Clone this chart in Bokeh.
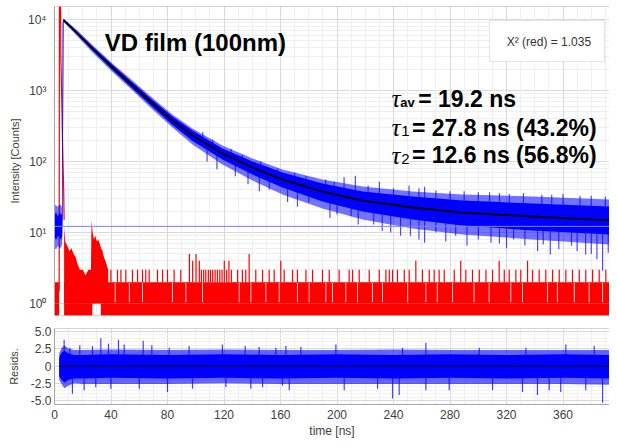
from bokeh.plotting import figure
from bokeh.layouts import column
from bokeh.models import FixedTicker, CustomJSTickFormatter, Span, Label, Grid, Range1d, BoxAnnotation
from bokeh.embed import file_html
from bokeh.resources import INLINE

# ---------------- values ----------------
x_ticks = [0, 40, 80, 120, 160, 200, 240, 280, 320, 360]
y_log_ticks = [1, 10, 100, 1000, 10000]
resid_ticks = [-5.0, -2.5, 0.0, 2.5, 5.0]

# fitted decay curve (black)
fit_t = [6.4, 16.3, 26.9, 41.1, 55.2, 69.4, 83.5, 97.7, 118.9, 140.2, 161.4, 189.7, 218.1, 253.5, 288.8, 338.4, 392.9]
fit_v = [9800, 6350, 3910, 2110, 1175, 656, 378, 232, 130, 82.2, 55.7, 37.8, 28.2, 22.5, 19.1, 16.8, 14.8]

# measured decay (blue): dense core and noisy fringe envelopes
decay_t = [0, 1.2, 2.4, 3.6, 4.8, 5.4, 5.8] + fit_t
decay_hi = [18, 19, 17, 19, 18, 18, 9000, 10120, 6670, 4170, 2290, 1295, 735, 430, 273, 152, 100, 69.8, 49, 37.8, 32.1, 28.2, 25.6, 23.2]
decay_lo = [8.5, 8, 9, 8.5, 8, 9, 18, 9490, 6050, 3670, 1950, 1067, 586, 326, 194, 107, 65.6, 43, 27.3, 19.8, 15.2, 12.6, 10.7, 9.4]
fringe_hi = [25, 24, 23, 25, 24, 22, 9300, 10350, 7000, 4380, 2400, 1380, 783, 458, 291, 168, 110, 77, 55.7, 44.5, 37.8, 34.4, 32.1, 29.2]
fringe_lo = [6, 5.8, 6.5, 6, 6.2, 7, 15, 9280, 5760, 3430, 1825, 1000, 540, 301, 173, 90.8, 54, 34.3, 21.8, 15.2, 11.4, 9.4, 8.0, 6.8]

# isolated downward / upward excursions of the blue data
blue_dn_t = [108, 115, 128, 137, 145, 152, 165, 172, 180, 185, 195, 200, 210, 215, 226, 232, 238, 245, 252, 258, 262,
             270, 277, 284, 292, 300, 309, 315, 320, 325, 333, 342, 346, 351, 357, 366, 370, 376, 380, 384, 388, 392]
blue_dn_from = [180, 145, 108, 88, 77, 68, 53, 47, 43, 40, 35.5, 34, 31, 29, 27, 25.8, 25, 24, 22.7, 22, 21.5,
                21, 20, 19.5, 19, 18.5, 18, 17.7, 17.5, 17.2, 17, 16.7, 16.5, 16.3, 16, 15.7, 15.6, 15.3, 15.2, 15, 14.9, 14.8]
blue_dn_to = [100, 78, 62, 48, 38, 40, 27, 23, 26.5, 30, 16, 18, 17, 13, 13, 10.5, 10, 9, 9, 8, 7.2,
              10, 7.5, 9, 6.5, 8, 7.2, 7, 6, 8, 6.6, 5.5, 6.8, 4.9, 5.8, 6.5, 5.5, 4.9, 5, 4.2, 2.9, 5.2]
blue_up_t = [105, 112, 125, 133, 146, 158, 170, 178, 192, 198, 205, 213, 222, 230, 240, 251, 258, 262, 270, 280,
             290, 300, 308, 315, 322, 332, 345, 352, 360, 372, 380, 390]
blue_up_from = [195, 155, 115, 95, 75, 60, 50, 44, 37, 35, 33, 29, 27.5, 27, 24.5, 23, 22, 21.5, 21, 20,
                19, 18.5, 18, 17.7, 17.4, 17, 16.6, 16.2, 15.9, 15.5, 15.2, 14.9]
blue_up_to = [260, 205, 150, 125, 100, 80, 70, 62, 56, 52, 60, 63, 46, 52, 42, 46, 42, 44, 39, 38,
              38, 37, 37, 36, 35, 36, 34, 34, 35, 33, 33, 32]

bg_level = 12.2

# instrument response (red)
irf_t = [3.0, 3.3, 3.5, 4.2, 4.5, 5.0, 5.5, 6.0, 6.5, 6.8]
irf_v = [1.5, 1.5, 30000, 30000, 3000, 1000, 300, 100, 40, 15]
red_fill_t = [6.8, 7.6, 9.0, 10.5, 12.0, 13.5, 15.0, 16.5, 18.0, 20.0, 22.0, 24.0, 25.8, 26.2, 27.0, 28.0, 29.0, 30.0, 31.0, 32.0, 33.0, 34.0, 35.0, 36.0, 37.0, 38.0]
red_fill_hi = [12, 7.5, 6.5, 5.5, 6, 5, 4.5, 3.5, 3, 3, 2.5, 3, 3, 15, 10, 8, 9, 7.5, 8, 7, 6, 5.5, 4.5, 4, 3.5, 3]
red_fill_lo = [1, 1, 1, 1, 1, 1, 1, 1, 1, 1, 1, 1, 1, 1.2, 1.2, 1.2, 1.2, 1.2, 1.2, 1.2, 1.2, 1.2, 1, 1, 1, 1]
red_base_x0 = [0, 6.8, 32.8]
red_base_x1 = [3.3, 26.8, 392.9]
red_mid_x0 = [0, 6.8]
red_mid_x1 = [3.3, 392.9]
red_gap_t = [43, 53, 62.3, 83.5, 93, 104.8, 130.8, 139, 149.6, 159.1, 172, 180.3, 192.1, 196.8, 206.2, 214.5, 225.1, 232.2,
             250, 262.9, 271, 281.8, 297, 307.7, 323, 331.3, 349, 356, 368, 378.5, 388]
red_spike_t = [39.9, 44.6, 47.0, 50.5, 55.2, 58.8, 62.3, 64.6, 67.0, 72.9, 76.5, 80.0, 84.7, 89.4, 95.5, 97.8, 100.2, 102.5,
               104.0, 105.6, 107.1, 108.9, 110.4, 112.0, 113.7, 115.3, 117.0, 118.6, 120.2, 121.9, 123.5, 125.2,
               129.6, 133.0, 135.4, 137.8, 142.5, 147.3, 152.0, 155.5, 160.2, 162.6, 168.5, 172.0, 178.0, 182.7, 189.7,
               194.5, 201.5, 208.6, 211.0, 215.7, 222.8, 229.9, 234.6, 237.0, 239.3, 242.8, 247.6, 251.1, 255.8, 260.5,
               265.3, 268.8, 272.3, 275.9, 283.0, 287.6, 291.2, 295.9, 300.7, 305.4, 310.1, 314.8, 318.4, 321.9, 326.6,
               330.1, 334.9, 338.4, 343.1, 347.8, 352.6, 357.3, 362.0, 366.7, 371.5, 376.1, 380.9, 385.6, 390.3]
red_spike_v = [3, 3, 3, 3, 3, 3, 3, 3, 3, 3, 3, 3, 3, 3, 5, 4, 5, 4,
               3, 3, 3, 3, 3, 3, 3, 3, 3, 3, 4, 3, 4, 3,
               3, 3, 3, 5, 3, 3, 3, 3, 4, 3, 3, 3, 3, 3, 3,
               3, 3, 3, 3, 3, 3, 3, 3, 3, 3, 3, 3, 3, 4, 3,
               3, 3, 3, 3, 3, 4, 3, 3, 3, 3, 3, 4, 3, 3, 3,
               3, 4, 3, 3, 3, 3, 3, 3, 3, 3, 3, 3, 3, 3]

# residuals
resid_t = [3.3, 5, 7, 10, 14, 20, 40, 80, 120, 160, 200, 240, 280, 320, 360, 392.9]
resid_hi = [1.2, 1.9, 2.2, 1.8, 1.6, 1.6, 1.7, 1.6, 1.7, 1.6, 1.7, 1.6, 1.7, 1.6, 1.7, 1.6]
resid_lo = [-1.5, -2.0, -2.4, -2.0, -1.8, -1.8, -1.7, -1.8, -1.7, -1.8, -1.7, -1.8, -1.7, -1.8, -1.7, -1.8]
resid_fr_hi = [1.8, 2.6, 3.0, 2.5, 2.3, 2.3, 2.4, 2.3, 2.4, 2.3, 2.3, 2.4, 2.3, 2.3, 2.3, 2.3]
resid_fr_lo = [-2.0, -2.6, -3.2, -2.8, -2.5, -2.6, -2.6, -2.6, -2.5, -2.6, -2.6, -2.6, -2.6, -2.6, -2.6, -2.7]
resid_up_t = [6.8, 10.9, 17.9, 26.9, 32.8, 38.2, 45.3, 49.3, 62.8, 68.9, 81.2, 95.3, 118.9, 135, 144.9, 156.7, 163.8,
              174.4, 199.2, 246.4, 262.9, 300.7, 333.7, 362, 382.1]
resid_up_v = [3.8, 2.65, 3.0, 2.9, 4.0, 3.2, 3.8, 3.1, 3.65, 3.0, 2.65, 2.9, 3.1, 2.9, 2.75, 2.65, 2.9,
              2.75, 3.1, 2.65, 3.35, 2.65, 2.65, 3.1, 2.9]
resid_dn_t = [12.7, 21, 29.2, 39.9, 60, 80, 97.7, 121.3, 139, 147.3, 161.4, 166.2, 205.1, 228.7, 239.3, 244, 262.9,
              279.4, 310.1, 331.3, 341.9, 350.2, 358.4, 376.1, 388]
resid_dn_v = [-4.0, -3.5, -3.05, -3.3, -3.3, -3.75, -3.3, -3.05, -3.3, -3.05, -2.85, -3.5, -3.5, -3.3, -4.7, -4.2, -3.5,
              -3.5, -3.5, -3.75, -4.2, -3.5, -3.75, -3.5, -5.3]

# ---------------- styling ----------------
FONT = "Liberation Sans"
GRID = "#d9d9d9"
MINOR = "#efefef"
FRAME = "#a6a6a6"
TICK_COL = "#404040"
BLUE = "#0000ff"
RED = "#ff0000"
X_END = 392.9

x_minor = [t + d for t in x_ticks for d in (10, 20, 30)]
y_minor = [d * m for d in y_log_ticks for m in range(2, 10)]
r_minor = [v / 2 for v in range(-11, 12) if v % 5 != 0]

# ---------------- main decay plot ----------------
p1 = figure(width=609, height=320, y_axis_type="log",
            x_range=Range1d(0, X_END), y_range=Range1d(0.678, 15250),
            x_axis_location=None, output_backend="svg", toolbar_location=None,
            min_border_left=54, min_border_right=0, min_border_top=6, min_border_bottom=5)
p1.outline_line_color = None
p1.background_fill_color = "white"

yax = p1.yaxis[0]
yax.ticker = FixedTicker(ticks=y_log_ticks, minor_ticks=y_minor)
yax.formatter = CustomJSTickFormatter(code="""
const sup = {0: '\u2070', 1: '\u00b9', 2: '\u00b2', 3: '\u00b3', 4: '\u2074'};
const e = Math.round(Math.log10(tick));
return '10' + (sup[e] || '');
""")
yax.axis_label = "Intensity [Counts]"
yax.axis_label_text_font = FONT
yax.axis_label_text_font_size = "11px"
yax.axis_label_text_font_style = "normal"
yax.axis_label_text_color = TICK_COL
yax.axis_label_standoff = 4
yax.major_label_text_font = FONT
yax.major_label_text_font_size = "12px"
yax.major_label_text_color = TICK_COL
yax.major_label_standoff = 8
yax.major_tick_line_color = None
yax.minor_tick_line_color = None
yax.major_tick_out = 0
yax.major_tick_in = 0
yax.minor_tick_out = 0
yax.minor_tick_in = 0
yax.axis_line_color = FRAME

p1.ygrid.grid_line_color = GRID
p1.ygrid.minor_grid_line_color = MINOR
p1.add_layout(Grid(dimension=0, ticker=FixedTicker(ticks=x_ticks, minor_ticks=x_minor),
                   grid_line_color=GRID, minor_grid_line_color=MINOR))

# red instrument response
p1.quad(left=red_base_x0, right=red_base_x1, bottom=0.1, top=1.0, fill_color=RED, line_color=None)
p1.quad(left=red_mid_x0, right=red_mid_x1, bottom=1.0, top=2.0, fill_color=RED, line_color=None)
p1.segment(x0=red_gap_t, x1=red_gap_t, y0=1.05, y1=1.95, line_color="white", line_width=1, line_alpha=0.8)
p1.segment(x0=red_spike_t, x1=red_spike_t, y0=2.0, y1=red_spike_v, line_color=RED, line_width=1.2)
p1.varea(x=red_fill_t, y1=red_fill_lo, y2=red_fill_hi, fill_color=RED)
p1.line(irf_t, irf_v, line_color=RED, line_width=1.2)

# blue measured decay
p1.varea(x=decay_t, y1=fringe_lo, y2=fringe_hi, fill_color=BLUE, fill_alpha=0.55)
p1.varea(x=decay_t, y1=decay_lo, y2=decay_hi, fill_color=BLUE)
p1.segment(x0=blue_dn_t, x1=blue_dn_t, y0=blue_dn_from, y1=blue_dn_to, line_color=BLUE, line_width=1.2, line_alpha=0.7)
p1.segment(x0=blue_up_t, x1=blue_up_t, y0=blue_up_from, y1=blue_up_to, line_color=BLUE, line_width=1.2, line_alpha=0.7)

# fit line
p1.line(fit_t, fit_v, line_color="black", line_width=1.8)

p1.add_layout(Span(location=bg_level, dimension="width", line_color="#7f7fff", line_width=1))
p1.add_layout(Span(location=15250, dimension="width", line_color=FRAME, line_width=1))
p1.add_layout(Span(location=0.678, dimension="width", line_color=FRAME, line_width=1))

# annotations
p1.add_layout(Label(x=35.5, y=4740, text="VD film (100nm)", text_font=FONT, text_font_size="24px",
                    text_font_style="bold", text_color="black", text_baseline="alphabetic"))
p1.add_layout(BoxAnnotation(left=308, right=389.4, top=9680, bottom=2560, fill_color="white", fill_alpha=1,
                            line_color=FRAME, line_width=1))
p1.add_layout(Label(x=350, y=4900, text="X\u00b2 (red) = 1.035", text_font=FONT, text_font_size="12px",
                    text_color="#333333", text_align="center", text_baseline="middle"))

tau_rows = [(771, 678, "av", "= 19.2 ns", 257.5, 244.8, "13px", "bold"),
            (301, 273, "1", "= 27.8 ns (43.2%)", 253.0, 245.5, "15px", "normal"),
            (122, 110, "2", "= 12.6 ns (56.8%)", 253.0, 245.5, "15px", "normal")]
for y_base, y_sub, sub, rest, x_rest, x_sub, sub_size, sub_style in tau_rows:
    p1.add_layout(Label(x=238.5, y=y_base, text="\u03c4", text_font="Liberation Serif", text_font_size="25px",
                        text_font_style="italic", text_color="black", text_baseline="alphabetic"))
    p1.add_layout(Label(x=x_sub, y=y_sub, text=sub, text_font=FONT, text_font_size=sub_size,
                        text_font_style=sub_style, text_color="black", text_baseline="alphabetic"))
    p1.add_layout(Label(x=x_rest, y=y_base, text=rest, text_font=FONT, text_font_size="23px",
                        text_font_style="bold", text_color="black", text_baseline="alphabetic"))

# ---------------- residuals ----------------
p2 = figure(width=609, height=120, x_range=p1.x_range, y_range=Range1d(-5.56, 5.42),
            output_backend="svg", toolbar_location=None,
            min_border_left=54, min_border_right=0, min_border_top=8, min_border_bottom=33)
p2.outline_line_color = None

xax = p2.xaxis[0]
xax.ticker = FixedTicker(ticks=x_ticks, minor_ticks=x_minor)
xax.axis_label = "time [ns]"
rax = p2.yaxis[0]
rax.ticker = FixedTicker(ticks=resid_ticks, minor_ticks=r_minor)
rax.formatter = CustomJSTickFormatter(code="return tick == 0 ? '0' : tick.toFixed(1);")
rax.axis_label = "Resids."
for ax, lab_size, std, lstd in ((xax, "12px", 5, 2), (rax, "11px", 3, 8)):
    ax.axis_label_text_font = FONT
    ax.axis_label_text_font_size = lab_size
    ax.axis_label_text_font_style = "normal"
    ax.axis_label_text_color = TICK_COL
    ax.axis_label_standoff = lstd
    ax.major_label_text_font = FONT
    ax.major_label_text_font_size = "12px"
    ax.major_label_text_color = TICK_COL
    ax.major_label_standoff = std
    ax.major_tick_line_color = None
    ax.minor_tick_line_color = None
    ax.major_tick_out = 0
    ax.major_tick_in = 0
    ax.minor_tick_out = 0
    ax.minor_tick_in = 0
    ax.axis_line_color = FRAME

p2.xgrid.grid_line_color = GRID
p2.xgrid.minor_grid_line_color = MINOR
p2.ygrid.grid_line_color = GRID
p2.ygrid.minor_grid_line_color = "#f2f2f2"

p2.varea(x=resid_t, y1=resid_fr_lo, y2=resid_fr_hi, fill_color=BLUE, fill_alpha=0.6)
p2.varea(x=resid_t, y1=resid_lo, y2=resid_hi, fill_color=BLUE)
p2.segment(x0=resid_up_t, x1=resid_up_t, y0=0, y1=resid_up_v, line_color=BLUE, line_width=1.2, line_alpha=0.75)
p2.segment(x0=resid_dn_t, x1=resid_dn_t, y0=0, y1=resid_dn_v, line_color=BLUE, line_width=1.2, line_alpha=0.75)
p2.line([resid_t[0], resid_t[-1]], [0, 0], line_color="black", line_width=1)
p2.add_layout(Span(location=5.42, dimension="width", line_color=FRAME, line_width=1))

layout = column(p1, p2)
with open("out.html", "w", encoding="utf-8") as f:
    f.write(file_html(layout, INLINE))
